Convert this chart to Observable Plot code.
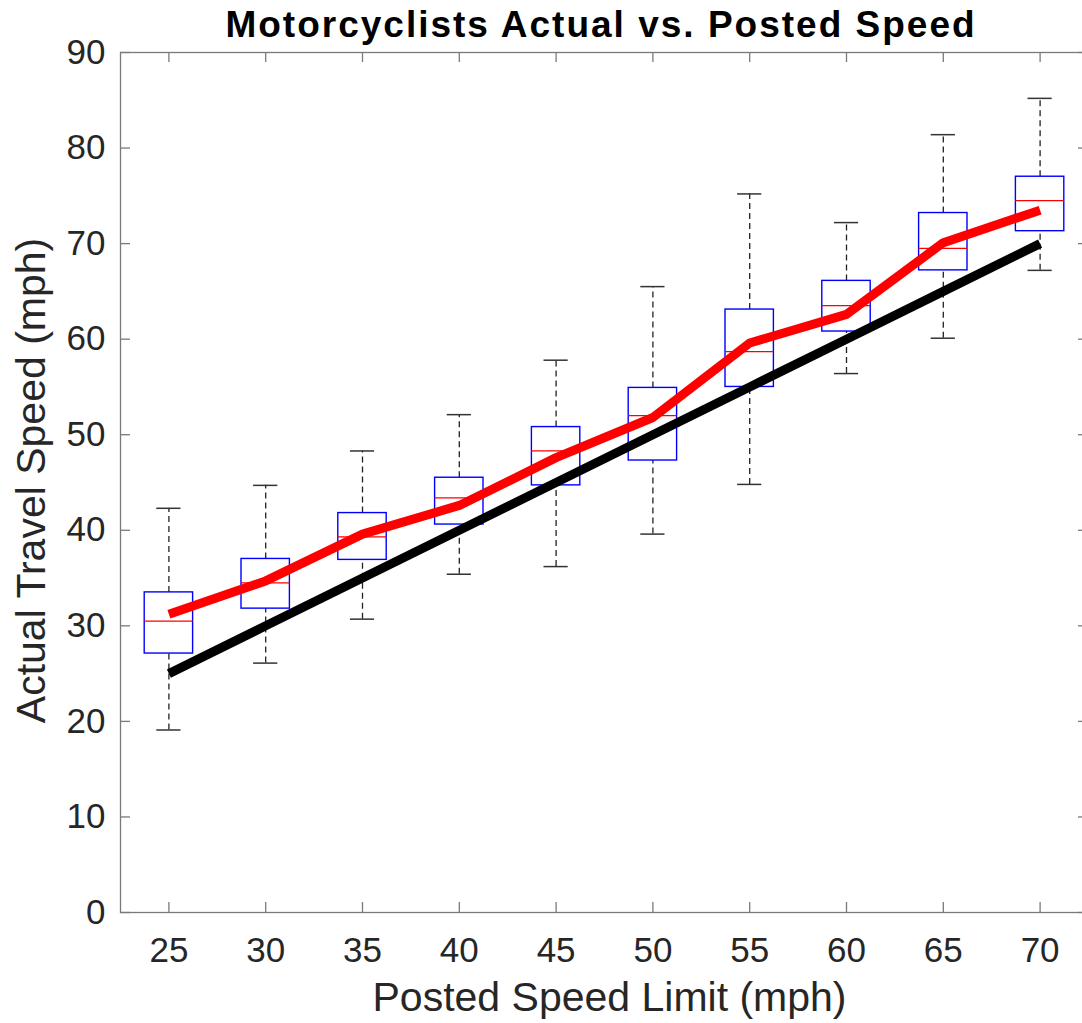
<!DOCTYPE html>
<html>
<head>
<meta charset="utf-8">
<script src="https://cdn.jsdelivr.net/npm/d3@7"></script>
<script src="https://cdn.jsdelivr.net/npm/@observablehq/plot@0.6"></script>
<style>
  html, body { margin: 0; padding: 0; background: #fff; overflow: hidden; }
  #wrap { position: relative; width: 1082px; height: 1023px; }
  #title {
    position: absolute; top: 0; left: 0;
    width: 1082px; height: 46px; box-sizing: border-box;
    padding-left: 120px; padding-top: 2px;
    text-align: center; font-family: "Liberation Sans", Arial, Helvetica, sans-serif;
    font-weight: bold; font-size: 37px; letter-spacing: 2px; line-height: 46px; color: #000;
    z-index: 2;
  }
  #chart svg { display: block; }
</style>
</head>
<body>
<div id="wrap">
<div id="title">Motorcyclists Actual vs. Posted Speed</div>
<div id="chart"></div>
</div>
<script>
// ---- data ----
const postedLimits = [25, 30, 35, 40, 45, 50, 55, 60, 65, 70];
const whiskerHigh  = [42.3, 44.7, 48.3, 52.1, 57.8, 65.5, 75.2, 72.2, 81.4, 85.2];
const quartile3    = [33.5, 37.0, 41.8, 45.5, 50.8, 54.9, 63.1, 66.1, 73.2, 77.0];
const medianSpeed  = [30.5, 34.5, 39.3, 43.4, 48.3, 52.0, 58.7, 63.5, 69.5, 74.5];
const quartile1    = [27.1, 31.8, 36.9, 40.6, 44.7, 47.3, 55.0, 60.8, 67.2, 71.3];
const whiskerLow   = [19.1, 26.1, 30.7, 35.4, 36.2, 39.6, 44.8, 56.4, 60.1, 67.2];
const meanSpeed    = [31.2, 34.7, 39.6, 42.6, 47.6, 51.8, 59.6, 62.6, 70.1, 73.5];
const yTickValues  = [0, 10, 20, 30, 40, 50, 60, 70, 80, 90];

const data = postedLimits.map((limit, i) => ({
  limit, hi: whiskerHigh[i], q3: quartile3[i], med: medianSpeed[i],
  q1: quartile1[i], lo: whiskerLow[i], mean: meanSpeed[i]
}));

// ---- layout ----
const W = 1082, H = 1023;
const mL = 120, mR = -6, mT = 52, mB = 111;
const frameW = W - mL - mR, frameH = H - mT - mB;
const tickLen = 10;
const boxHalf = 1.25, capHalf = 0.625;
const axisColor = "#7a7a7a";
const textColor = "#262626";

const chart = Plot.plot({
  width: W, height: H,
  marginLeft: mL, marginRight: mR, marginTop: mT, marginBottom: mB,
  style: { fontFamily: "'Liberation Sans', Arial, Helvetica, sans-serif", fontSize: "35px", color: textColor, background: "#fff" },
  x: { type: "linear", domain: [22.5, 72.5], range: [mL, W - mR] },
  y: { type: "linear", domain: [0, 90], range: [H - mB, mT] },
  marks: [
    Plot.frame({ stroke: axisColor, strokeWidth: 1.3 }),
    // inward ticks, all four sides
    Plot.ruleX(postedLimits, { x: d => d, insetTop: frameH - tickLen, stroke: axisColor, strokeWidth: 1.3 }),
    Plot.ruleX(postedLimits, { x: d => d, insetBottom: frameH - tickLen, stroke: axisColor, strokeWidth: 1.3 }),
    Plot.ruleY(yTickValues, { y: d => d, insetRight: frameW - tickLen, stroke: axisColor, strokeWidth: 1.3 }),
    Plot.ruleY(yTickValues, { y: d => d, insetLeft: frameW - tickLen, stroke: axisColor, strokeWidth: 1.3 }),
    Plot.axisX({ ticks: postedLimits, tickSize: 0, tickPadding: 25, tickFormat: d => String(d), label: null, fill: textColor }),
    Plot.axisY({ ticks: yTickValues, tickSize: 0, tickPadding: 15, tickFormat: d => String(d), label: null, fill: textColor }),
    // whiskers
    Plot.ruleX(data, { x: "limit", y1: "q3", y2: "hi", stroke: "#222", strokeWidth: 1.3, strokeDasharray: "6,4" }),
    Plot.ruleX(data, { x: "limit", y1: "lo", y2: "q1", stroke: "#222", strokeWidth: 1.3, strokeDasharray: "6,4" }),
    Plot.ruleY(data, { y: "hi", x1: d => d.limit - capHalf, x2: d => d.limit + capHalf, stroke: "#333", strokeWidth: 1.5 }),
    Plot.ruleY(data, { y: "lo", x1: d => d.limit - capHalf, x2: d => d.limit + capHalf, stroke: "#333", strokeWidth: 1.5 }),
    // boxes
    Plot.rect(data, { x1: d => d.limit - boxHalf, x2: d => d.limit + boxHalf, y1: "q1", y2: "q3", fill: "none", stroke: "#0000ff", strokeWidth: 1.4 }),
    Plot.ruleY(data, { y: "med", x1: d => d.limit - boxHalf, x2: d => d.limit + boxHalf, stroke: "#ff0000", strokeWidth: 1.2 }),
    // lines
    Plot.line(data, { x: "limit", y: "limit", stroke: "#000", strokeWidth: 9, strokeLinecap: "butt", strokeLinejoin: "round" }),
    Plot.line(data, { x: "limit", y: "mean", stroke: "#ff0000", strokeWidth: 9, strokeLinecap: "butt", strokeLinejoin: "round" }),
    // axis titles
    Plot.text(["Posted Speed Limit (mph)"], { text: d => d, frameAnchor: "bottom", textAnchor: "middle", lineAnchor: "bottom", dy: 98, dx: 5, fontSize: 41, fill: textColor }),
    Plot.text(["Actual Travel Speed (mph)"], { text: d => d, frameAnchor: "left", textAnchor: "middle", rotate: -90, lineAnchor: "bottom", dx: -76, dy: -2, fontSize: 41, fill: textColor })
  ]
});
document.getElementById("chart").appendChild(chart);
</script>
</body>
</html>
